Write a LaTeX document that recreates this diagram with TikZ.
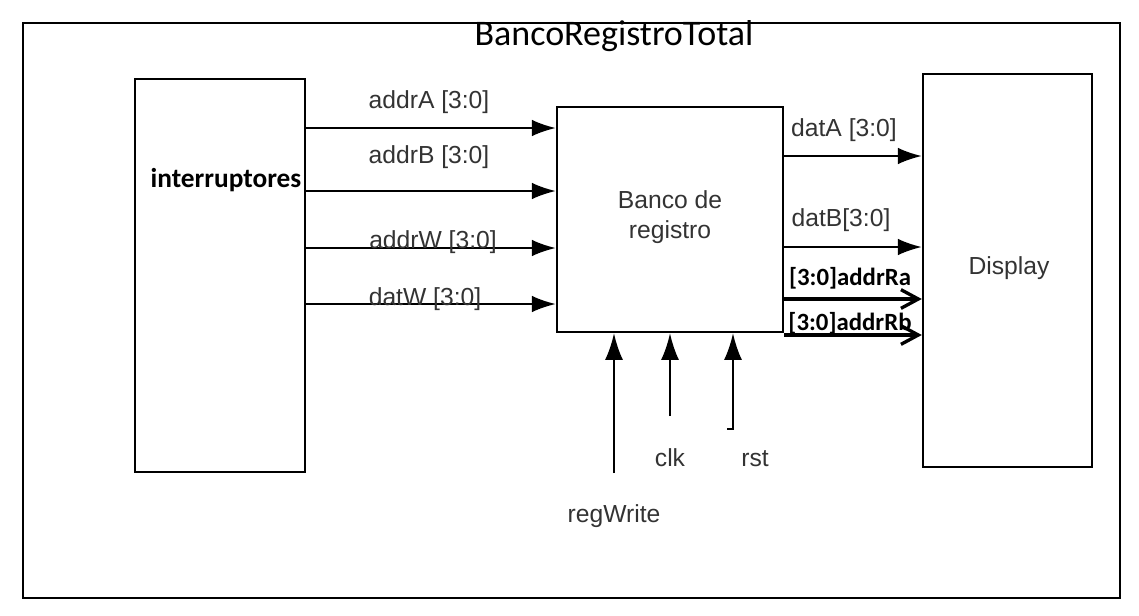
\documentclass[tikz,border=0pt]{standalone}
\usepackage{fontspec}
\newfontfamily\arialf{Liberation Sans}
\newfontfamily\calibf{Carlito}
\usetikzlibrary{arrows.meta}
\tikzset{every picture/.style={line width=0.75pt}}
\tikzset{
  blk/.style={draw, line width=1.8pt, inner sep=0pt},
  sig/.style={line width=1.5pt, -{Latex[length=18pt,width=12.5pt]}},
  sigv/.style={line width=1.6pt, -{Latex[length=20pt,width=13.5pt]}},
  bus/.style={line width=3pt, -{Straight Barb[length=13pt,width=14pt,line width=2.5pt]}},
  lbl/.style={anchor=base, inner sep=0.75pt, font=\arialf\fontsize{18.5}{22.5}\selectfont, text=black!80},
  blbl/.style={anchor=base, inner sep=0.75pt, font=\calibf\bfseries\fontsize{18.6}{22}\selectfont},
}

\begin{document}
\begin{tikzpicture}[x=0.75pt,y=0.75pt,yscale=-1,xscale=1]
	\useasboundingbox (0,0) rectangle (1139,615);
	
	%Shape: Rectangle (outer frame)
	\draw [line width=2pt] (23,23) rectangle (1120,598);
	\draw (614,45) node [anchor=base][inner sep=0.75pt] (title) {\calibf\fontsize{27}{30}\selectfont BancoRegistroTotal};
	
	%Shape: Rectangle [interruptores]
	\node [blk, minimum width=127.5pt, minimum height=294.75pt] (intr) at (220,275.5) {};
	%Shape: Rectangle [banco]
	\node [blk, minimum width=169.5pt, minimum height=168.75pt] (banco) at (670,219.5) {};
	%Shape: Rectangle [display]
	\node [blk, minimum width=126.75pt, minimum height=294.75pt] (disp) at (1007.5,270.5) {};
	
	% inputs of the register bank
	\draw [sig] (intr.east |- 0,128) -- (banco.west |- 0,128) ;
	\draw [sig] (intr.east |- 0,191) -- (banco.west |- 0,191) ;
	\draw [sig] (intr.east |- 0,248) -- (banco.west |- 0,248) ;
	\draw [sig] (intr.east |- 0,304) -- (banco.west |- 0,304) ;
	
	% outputs to the display
	\draw [sig] (banco.east |- 0,156) -- (disp.west |- 0,156) ;
	\draw [sig] (banco.east |- 0,247) -- (disp.west |- 0,247) ;
	\draw [bus] (banco.east |- 0,299) -- (disp.west |- 0,299) ;
	\draw [bus] (banco.east |- 0,335) -- (disp.west |- 0,335) ;
	
	% control inputs
	\coordinate (regw) at (614,473);
	\coordinate (clkin) at (670,416);
	\coordinate (rstin) at (727,429);
	\draw [sigv] (regw) -- (banco.south -| regw) ;
	\draw [sigv] (clkin) -- (banco.south -| clkin) ;
	\draw [sigv] (rstin) -- ++(6,0) -- (banco.south -| 733,0) ;
	
	\draw (226,187) node [anchor=base][inner sep=0.75pt] (lintr) {\calibf\bfseries\fontsize{20.5}{24}\selectfont interruptores};
	\draw (429,108) node [lbl] (laddrA) {addrA [3:0]};
	\draw (429,163) node [lbl] (laddrB) {addrB [3:0]};
	\draw (433,248) node [lbl] (laddrW) {addrW [3:0]};
	\draw (425,305) node [lbl] (ldatW) {datW [3:0]};
	\draw (844,136) node [lbl] (ldatA) {datA [3:0]};
	\draw (841,226) node [lbl] (ldatB) {datB[3:0]};
	\draw (850,285) node [blbl] (laddrRa) {[3:0]addrRa};
	\draw (850,330) node [blbl] (laddrRb) {[3:0]addrRb};
	\draw (670,208) node [lbl] (lbanco1) {Banco de};
	\draw (670,238) node [lbl] (lbanco2) {registro};
	\draw (1009,274) node [lbl] (ldisp) {Display};
	\draw (670,466) node [lbl] (lclk) {clk};
	\draw (755,466) node [lbl] (lrst) {rst};
	\draw (614,522) node [lbl] (lregw) {regWrite};
	
\end{tikzpicture}
\end{document}
